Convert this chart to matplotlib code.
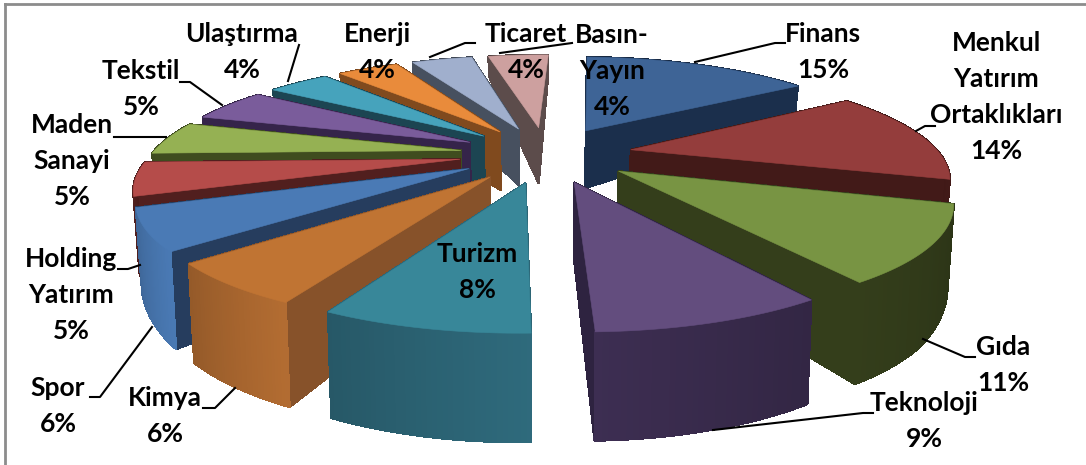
import numpy as np
from matplotlib import pyplot as plt
from matplotlib.colors import to_rgb

labels = ['Finans', 'Menkul\nYatırım\nOrtaklıkları', 'Gıda', 'Teknoloji', 'Turizm', 'Kimya', 'Spor',
          'Holding\nYatırım', 'Maden\nSanayi', 'Tekstil', 'Ulaştırma', 'Enerji', 'Ticaret', 'Basın-\nYayın']
values = [15, 14, 11, 9, 8, 6, 6, 5, 5, 5, 4, 4, 4, 4]

top_colors = ['#3e6496', '#943d3c', '#789443', '#634d7e', '#388799', '#c07433', '#4a7ab5',
              '#b54c4a', '#95b153', '#7a5c9b', '#46a3bc', '#e98b3b', '#a0afcd', '#cda09f']
side_colors = ['#1b2f4c', '#421a18', '#343e1b', '#2e2340', '#2c6474', '#87522a', '#263d5e',
               '#511f1e', '#3f4c1f', '#35244a', '#1c4552', '#804a1e', '#47505f', '#5c4c4b']
rim_colors = ['#1b2f4c', '#421a18', '#343e1b', '#3d2e52', '#2f6b7d', '#b46d32', '#4a7ab5',
              '#511f1e', '#3f4c1f', '#35244a', '#1c4552', '#804a1e', '#47505f', '#5c4c4b']

# label centres in pixels
label_pos = [(823, 52), (996, 97), (1003, 365), (924, 421), (477, 272), (165, 416), (58, 406),
             (71, 295), (72, 161), (141, 89), (242, 52), (377, 52), (526, 52), (612, 71)]
leaders = [[(695, 62), (775, 43), (785, 43)], [(916, 131), (925, 126), (935, 126)],
           [(923, 339), (965, 357), (975, 357)], [(713, 430), (863, 413), (873, 413)],
           None, [(235, 388), (215, 408), (203, 408)], [(152, 327), (100, 397), (90, 397)],
           [(140, 265), (128, 269), (118, 269)], [(166, 137), (114, 137)],
           [(222, 105), (190, 82), (180, 82)], [(288, 81), (299, 45)], None,
           [(430, 57), (465, 43), (475, 43)], [(500, 53), (572, 43)]]

plt.rcParams['font.family'] = ['Lato', 'DejaVu Sans']

cx, cy = 546, 154
rx, ry, persp = 309, 100, 0.2275


def project(x, y):
    w = 1 + persp * y
    return cx + rx * x / w, cy - ry * y / w


def depth_at(sy):
    return np.interp(sy, [55, 132, 250, 333], [20, 58, 97, 109])


def shade(color, f):
    return tuple(c * f for c in to_rgb(color))


fig, ax = plt.subplots(figsize=(10.86, 4.65), dpi=100)
fig.subplots_adjust(0, 0, 1, 1)
wedges, _ = ax.pie(values, explode=[0.28] * len(values), startangle=88, counterclock=False, radius=1)
slices = [(w.theta1, w.theta2, w.center) for w in wedges]
for w in wedges:
    w.remove()
ax.set_aspect('auto')
ax.set_xlim(0, 1086)
ax.set_ylim(465, 0)
ax.axis('off')

# back slices first
order = sorted(range(len(values)), key=lambda i: -np.sin(np.radians((slices[i][0] + slices[i][1]) / 2)))
for z, i in enumerate(order):
    t1, t2, (ox, oy) = slices[i]
    t = np.radians(np.linspace(t1, t2, 40))
    xs = np.r_[ox, ox + np.cos(t), ox]
    ys = np.r_[oy, oy + np.sin(t), oy]
    sx, sy = project(xs, ys)
    d = depth_at(sy)
    bx = cx + (sx - cx) * 0.985
    by = sy + d

    faces = []
    n = len(sx) - 1
    for k in range(n):
        if k == 0 or k == n - 1:
            col = side_colors[i]
        else:
            # rim gets darker towards the right hand side
            col = shade(rim_colors[i], 0.82 + 0.18 * (k / n if np.cos(t[0]) < 0 else 1 - k / n))
        qx = [sx[k], sx[k + 1], bx[k + 1], bx[k]]
        qy = [sy[k], sy[k + 1], by[k + 1], by[k]]
        faces.append((np.mean(qy), qx, qy, col))
    for _, qx, qy, col in sorted(faces, key=lambda f: f[0]):
        ax.fill(qx, qy, color=col, lw=0.8, antialiased=False, zorder=2 + z * 0.01)
    ax.fill(sx, sy, color=top_colors[i], lw=0.4, zorder=2 + z * 0.01 + 0.005)

for i, lab in enumerate(labels):
    ax.text(label_pos[i][0], label_pos[i][1], f'{lab}\n{values[i]}%', ha='center', va='center',
            fontsize=19, fontweight='bold', color='black', linespacing=1.6, zorder=6)
    if leaders[i] is not None:
        ax.plot([p[0] for p in leaders[i]], [p[1] for p in leaders[i]], color='black', lw=1.5, zorder=5)

# outer border, only top and left show
ax.plot([5, 5], [465, 4], color='#8c8c8c', lw=2, zorder=7)
ax.plot([5, 1086], [4, 4], color='#8c8c8c', lw=2, zorder=7)

fig.savefig('out.png', dpi=100)
